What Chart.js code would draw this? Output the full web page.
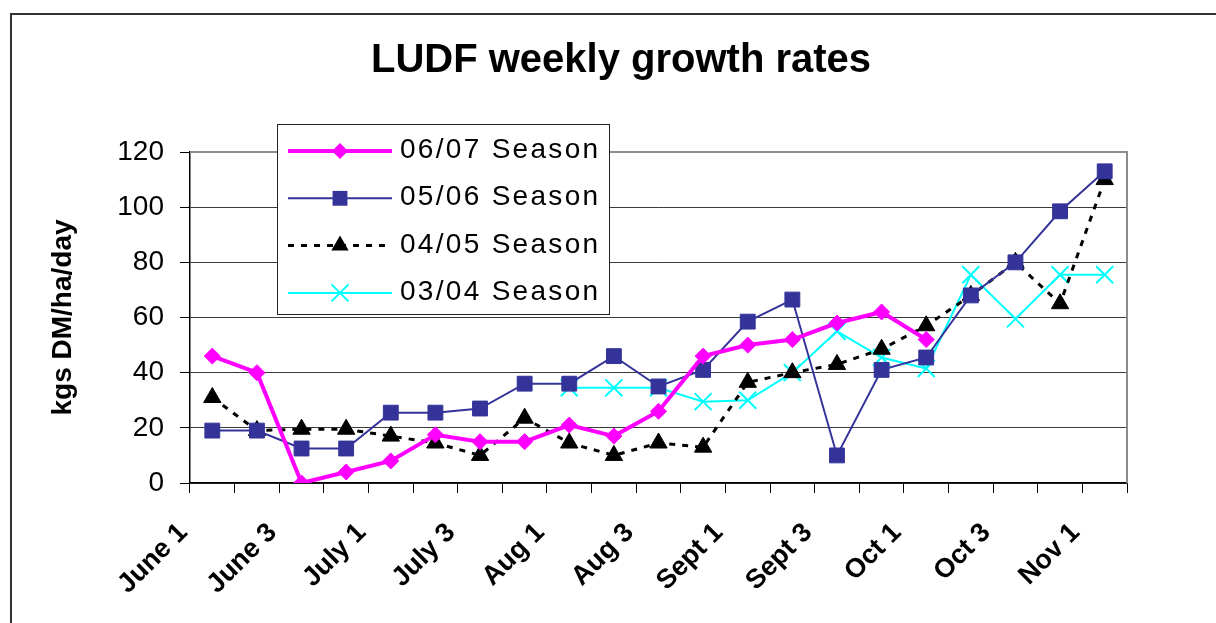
<!DOCTYPE html>
<html>
<head>
<meta charset="utf-8">
<title>LUDF weekly growth rates</title>
<script src="https://cdn.jsdelivr.net/npm/chart.js@4/dist/chart.umd.min.js"></script>
<style>
  html, body { margin: 0; padding: 0; background: #fff; }
</style>
</head>
<body>
<canvas id="growthChart" width="1216" height="623"></canvas>
<script>
// weekly categories, only every second one gets a label on the axis
const weeks = [
  "June 1", "June 2", "June 3", "June 4", "July 1", "July 2", "July 3", "July 4",
  "Aug 1", "Aug 2", "Aug 3", "Aug 4", "Sept 1", "Sept 2", "Sept 3", "Sept 4",
  "Oct 1", "Oct 2", "Oct 3", "Oct 4", "Nov 1"
];

const season0607 = [46, 40, 0, 4, 8, 17.5, 15, 15, 21, 17, 26, 46, 50, 52, 58, 62, 52, null, null, null, null];
const season0506 = [19, 19, 12.5, 12.5, 25.5, 25.5, 27, 36, 36, 46, 35, 41, 58.5, 66.5, 10, 41, 45.5, 68, 80, 98.5, 113];
const season0405 = [31, 19, 19.5, 19.5, 17, 14.5, 10, 23.5, 14.5, 10, 14.5, 13, 36.5, 40, 43, 48.5, 57, 68, 80, 65, 110];
const season0304 = [null, null, null, null, null, null, null, null, 34.5, 34.5, 34.5, 29.5, 30, 40, 55, 45.5, 41.5, 75.5, 59.5, 75.5, 75.5];

const seasonNames = ["06/07 Season", "05/06 Season", "04/05 Season", "03/04 Season"];
const yTicks = [0, 20, 40, 60, 80, 100, 120];

const FONT = "'Liberation Sans', Arial, sans-serif";
Chart.defaults.font.family = FONT;
Chart.defaults.color = "#000";

// small marker painter for the legend samples
function drawMarker(ctx, style, x, y, r, color, lineWidth) {
  ctx.save();
  ctx.fillStyle = color;
  ctx.strokeStyle = color;
  ctx.lineWidth = lineWidth;
  ctx.beginPath();
  if (style === "rectRot") {
    ctx.moveTo(x - r, y); ctx.lineTo(x, y - r); ctx.lineTo(x + r, y); ctx.lineTo(x, y + r);
    ctx.closePath(); ctx.fill();
  } else if (style === "rect") {
    const s = r * Math.SQRT1_2;
    ctx.rect(x - s, y - s, 2 * s, 2 * s); ctx.fill();
  } else if (style === "triangle") {
    for (let k = 0; k < 3; k++) {
      const a = k * 2 * Math.PI / 3;
      const px = x + Math.sin(a) * r, py = y - Math.cos(a) * r;
      if (k === 0) ctx.moveTo(px, py); else ctx.lineTo(px, py);
    }
    ctx.closePath(); ctx.fill();
  } else if (style === "crossRot") {
    const s = r * Math.SQRT1_2;
    ctx.moveTo(x - s, y - s); ctx.lineTo(x + s, y + s);
    ctx.moveTo(x + s, y - s); ctx.lineTo(x - s, y + s);
    ctx.stroke();
  }
  ctx.restore();
}

const framePlugin = {
  id: "frame",
  beforeDraw(chart) {
    const ctx = chart.ctx;
    ctx.save();
    ctx.fillStyle = "#fff";
    ctx.fillRect(0, 0, chart.width, chart.height);
    // outer border of the picture
    ctx.strokeStyle = "#333";
    ctx.lineWidth = 2;
    ctx.strokeRect(11, 14, 1300, 700);
    // title
    ctx.fillStyle = "#000";
    ctx.font = "bold 40px " + FONT;
    ctx.textAlign = "center";
    ctx.textBaseline = "alphabetic";
    ctx.fillText("LUDF weekly growth rates", 621, 72);
    ctx.restore();
  },
  beforeDatasetsDraw(chart) {
    const { ctx, chartArea } = chart;
    ctx.save();
    ctx.strokeStyle = "#8c8c8c";
    ctx.lineWidth = 2;
    ctx.beginPath();
    ctx.moveTo(chartArea.left, chartArea.top);
    ctx.lineTo(chartArea.right, chartArea.top);
    ctx.lineTo(chartArea.right, chartArea.bottom);
    ctx.stroke();
    ctx.restore();
  },
  afterDraw(chart) {
    // legend box drawn inside the plot, like the original
    const ctx = chart.ctx;
    ctx.save();
    ctx.fillStyle = "#fff";
    ctx.fillRect(277.5, 124.5, 332, 190);
    ctx.strokeStyle = "#222";
    ctx.lineWidth = 1;
    ctx.strokeRect(277.5, 124.5, 332, 190);
    chart.data.datasets.forEach((ds, i) => {
      const y = 151 + i * 47.3;
      ctx.save();
      ctx.strokeStyle = ds.borderColor;
      ctx.lineWidth = ds.borderWidth;
      ctx.setLineDash(ds.borderDash || []);
      ctx.beginPath();
      ctx.moveTo(288, y);
      ctx.lineTo(392, y);
      ctx.stroke();
      ctx.restore();
      drawMarker(ctx, ds.pointStyle, 340, y, ds.pointRadius, ds.pointBackgroundColor, ds.pointBorderWidth || 1);
      ctx.fillStyle = "#000";
      ctx.font = "28px " + FONT;
      ctx.letterSpacing = "2.3px";
      ctx.textAlign = "left";
      ctx.textBaseline = "alphabetic";
      ctx.fillText(ds.label, 400, y + 7);
      ctx.letterSpacing = "0px";
    });
    ctx.restore();
  }
};

new Chart(document.getElementById("growthChart"), {
  type: "line",
  data: {
    labels: weeks,
    datasets: [
      {
        label: seasonNames[0],
        data: season0607,
        borderColor: "#ff00ff",
        backgroundColor: "#ff00ff",
        borderWidth: 4,
        pointStyle: "rectRot",
        pointRadius: 8,
        pointBackgroundColor: "#ff00ff",
        pointBorderColor: "#ff00ff",
        pointBorderWidth: 1,
      },
      {
        label: seasonNames[1],
        data: season0506,
        borderColor: "#333399",
        backgroundColor: "#333399",
        borderWidth: 2,
        pointStyle: "rect",
        pointRadius: 10.5,
        pointBackgroundColor: "#333399",
        pointBorderColor: "#333399",
        pointBorderWidth: 1,
      },
      {
        label: seasonNames[2],
        data: season0405,
        borderColor: "#000",
        backgroundColor: "#000",
        borderWidth: 3,
        borderDash: [6, 7],
        pointStyle: "triangle",
        pointRadius: 10,
        pointBackgroundColor: "#000",
        pointBorderColor: "#000",
        pointBorderWidth: 1,
      },
      {
        label: seasonNames[3],
        data: season0304,
        borderColor: "#00ffff",
        backgroundColor: "#00ffff",
        borderWidth: 2,
        pointStyle: "crossRot",
        pointRadius: 12,
        pointBackgroundColor: "#00ffff",
        pointBorderColor: "#00ffff",
        pointBorderWidth: 2,
      },
    ],
  },
  options: {
    responsive: false,
    animation: false,
    events: [],
    tension: 0,
    spanGaps: false,
    layout: { padding: { left: 0, right: 89, top: 152, bottom: 0 } },
    plugins: {
      legend: { display: false },
      title: { display: false },
      tooltip: { enabled: false },
    },
    scales: {
      x: {
        offset: true,
        grid: {
          offset: true,
          drawOnChartArea: false,
          drawTicks: true,
          tickLength: 10,
          tickColor: "#000",
        },
        border: { color: "#000", width: 1.5 },
        ticks: {
          autoSkip: false,
          minRotation: 45,
          maxRotation: 45,
          labelOffset: -29,
          padding: 24,
          font: { size: 27, weight: "bold" },
          callback: function (value, index) {
            return index % 2 === 0 ? weeks[index] : "";
          },
        },
        afterFit: (scale) => { scale.height = 140; },
      },
      y: {
        min: 0,
        max: 120,
        afterBuildTicks: (scale) => { scale.ticks = yTicks.map((v) => ({ value: v })); },
        grid: {
          color: "#3a3a3a",
          tickLength: 10,
          tickColor: "#000",
        },
        border: { color: "#000", width: 1.5 },
        ticks: {
          padding: 16,
          font: { size: 28 },
        },
        title: {
          display: true,
          text: "kgs DM/ha/day",
          font: { size: 28, weight: "bold" },
          padding: { top: 46, bottom: 0 },
        },
        afterFit: (scale) => { scale.width = 190; },
      },
    },
  },
  plugins: [framePlugin],
});
</script>
</body>
</html>
